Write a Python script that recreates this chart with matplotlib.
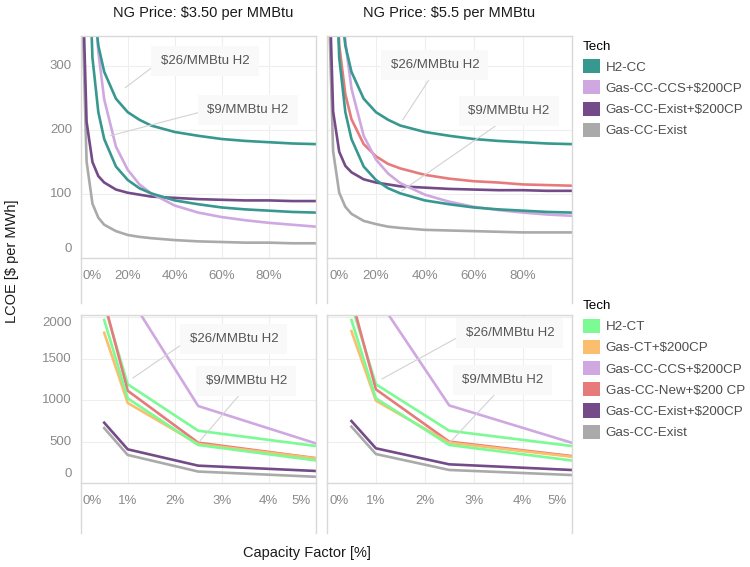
import numpy as np
import matplotlib.pyplot as plt
from matplotlib.patches import Patch

plt.rcParams['font.family'] = ['Liberation Sans', 'DejaVu Sans']
plt.rcParams['text.parse_math'] = False

# capacity factors used in the two rows
cf_full = [0.01, 0.025, 0.05, 0.075, 0.10, 0.15, 0.20, 0.25, 0.30, 0.40, 0.50, 0.60, 0.70, 0.80, 0.90, 1.00]
cf_peak = [0.005, 0.01, 0.025, 0.05]

# ---- top row, LCOE $/MWh over full CF range ----
# H2 priced at $26 and $9 per MMBtu (same in both NG panels)
h2cc_26 = [1416, 666, 416, 332, 291, 249, 228, 216, 207, 197, 191, 186, 183, 181, 179, 178]
h2cc_9 = [1333, 568, 313, 228, 186, 143, 122, 109, 101, 90, 84, 79, 76, 74, 72, 71]
# NG $3.50
ccs_cp_350 = [2237, 911, 469, 322, 248, 174, 138, 115, 101, 82, 71, 64, 59, 55, 52, 49]
exist_cp_350 = [405, 213, 150, 128, 118, 107, 102, 99, 96, 94, 92, 91, 90, 90, 89, 89]
exist_350 = [347, 151, 85, 63, 52, 42, 36, 33, 31, 28, 26, 25, 24, 24, 23, 23]
# NG $5.5
ccs_cp_550 = [2254, 928, 486, 338, 265, 191, 154, 132, 117, 99, 88, 80, 75, 71, 68, 66]
new_cp_550 = [1261, 565, 333, 256, 217, 178, 159, 147, 140, 130, 124, 120, 118, 115, 114, 113]
exist_cp_550 = [421, 229, 166, 144, 134, 123, 118, 115, 112, 110, 108, 107, 106, 106, 105, 105]
exist_550 = [363, 167, 102, 80, 69, 58, 53, 49, 47, 44, 43, 42, 41, 40, 40, 40]

# ---- bottom row, peaking CF range ----
h2ct_26 = [2150, 1190, 630, 446]
h2ct_9 = [1965, 1020, 458, 272]
gasct_cp_350 = [1811, 965, 470, 297]
ccs_pk_350 = [4530, 2280, 928, 478]
new_pk_350 = [2190, 1112, 486, 300]
exist_cp_pk_350 = [727, 406, 209, 145]
exist_pk_350 = [662, 338, 138, 75]

gasct_cp_550 = [1831, 992, 486, 317]
ccs_pk_550 = [4465, 2255, 935, 486]
new_pk_550 = [2230, 1129, 498, 325]
exist_cp_pk_550 = [747, 418, 225, 157]
exist_pk_550 = [679, 349, 157, 96]

colors = {
    'H2-CC': '#37988f',
    'H2-CT': '#7cfa94',
    'Gas-CT+$200CP': '#fbbe6e',
    'Gas-CC-CCS+$200CP': '#cfa8e1',
    'Gas-CC-New+$200 CP': '#e77b7b',
    'Gas-CC-Exist+$200CP': '#744b88',
    'Gas-CC-Exist': '#aaaaaa',
}

W, H = 750, 567
fig = plt.figure(figsize=(W / 100, H / 100), dpi=100)

def rect(x0, y0, x1, y1):
    # pixel box -> figure fraction
    return [x0 / W, 1 - y1 / H, (x1 - x0) / W, (y1 - y0) / H]

grid_c = '#eeeeee'
edge_c = '#d9d9d9'
tick_c = '#8a8a8a'
txt_c = '#555555'

def make_panel(box, strip_bottom):
    x0, y0, x1, y1 = box
    ax = fig.add_axes(rect(x0, y0, x1, y1))
    st = fig.add_axes(rect(x0, y1, x1, strip_bottom))
    for a in (ax, st):
        for s in a.spines.values():
            s.set_color(edge_c)
            s.set_linewidth(1)
    st.spines['top'].set_visible(False)
    st.spines['bottom'].set_visible(False)
    st.set_xticks([])
    st.set_yticks([])
    st.patch.set_alpha(0)
    ax.tick_params(length=0, labelbottom=False, labelleft=False)
    ax.grid(color=grid_c, lw=0.8)
    ax.set_axisbelow(True)
    return ax

def xlabels(ax, ticks, labels):
    for i, (t, l) in enumerate(zip(ticks, labels)):
        dx, ha = 0, 'center'
        if i == 0:
            dx, ha = 1.5, 'left'
        elif t >= ax.get_xlim()[1] - 1e-9:
            dx, ha = -3.5, 'right'
        ax.annotate(l, xy=(t, 0), xycoords=ax.get_xaxis_transform(),
                    xytext=(dx, -13), textcoords='offset points',
                    ha=ha, va='center', fontsize=9.5, color=tick_c,
                    annotation_clip=False)

def ylabels(ax, ticks, labels):
    lo, hi = ax.get_ylim()
    for t, l in zip(ticks, labels):
        dy = 0
        if t == lo:
            dy = 6.5
        elif hi - t < (hi - lo) * 0.04:
            dy = -4
        ax.annotate(l, xy=(0, t), xycoords=ax.get_yaxis_transform(),
                    xytext=(-6.3, dy), textcoords='offset points',
                    ha='right', va='center', fontsize=9.5, color=tick_c,
                    annotation_clip=False)

def note(ax, s, xy, xytext, relpos):
    ax.annotate(s, xy=xy, xytext=xytext, ha='center', va='center',
                fontsize=9.5, color=txt_c,
                bbox=dict(boxstyle='square,pad=0.7', fc='#f9f9f9', ec='none'),
                arrowprops=dict(arrowstyle='-', color='#d2d2d2', lw=0.8,
                                relpos=relpos, shrinkA=0, shrinkB=0))

lw = 1.9
top_ticks = [0, 0.2, 0.4, 0.6, 0.8]
top_lbls = ['0%', '20%', '40%', '60%', '80%']
bot_ticks = [0, 0.01, 0.02, 0.03, 0.04, 0.05]
bot_lbls = ['0%', '1%', '2%', '3%', '4%', '5%']

# ---------- top left ----------
ax = make_panel((80.7, 36, 315.7, 258), 303)
ax.plot(cf_full, exist_350, color=colors['Gas-CC-Exist'], lw=lw)
ax.plot(cf_full, exist_cp_350, color=colors['Gas-CC-Exist+$200CP'], lw=lw)
ax.plot(cf_full, ccs_cp_350, color=colors['Gas-CC-CCS+$200CP'], lw=lw)
ax.plot(cf_full, h2cc_9, color=colors['H2-CC'], lw=lw)
ax.plot(cf_full, h2cc_26, color=colors['H2-CC'], lw=lw)
ax.set_xlim(0, 1)
ax.set_ylim(0, 347)
ax.set_xticks(top_ticks)
ax.set_yticks([0, 100, 200, 300])
xlabels(ax, top_ticks, top_lbls)
ylabels(ax, [0, 100, 200, 300], ['0', '100', '200', '300'])
note(ax, '$26/MMBtu H2', (0.189, 266), (0.529, 308), (0, 0.5))
note(ax, '$9/MMBtu H2', (0.125, 191), (0.712, 231), (0, 0.5))

# ---------- top right ----------
ax = make_panel((327, 36, 571.5, 258), 303)
ax.plot(cf_full, exist_550, color=colors['Gas-CC-Exist'], lw=lw)
ax.plot(cf_full, new_cp_550, color=colors['Gas-CC-New+$200 CP'], lw=lw)
ax.plot(cf_full, exist_cp_550, color=colors['Gas-CC-Exist+$200CP'], lw=lw)
ax.plot(cf_full, ccs_cp_550, color=colors['Gas-CC-CCS+$200CP'], lw=lw)
ax.plot(cf_full, h2cc_9, color=colors['H2-CC'], lw=lw)
ax.plot(cf_full, h2cc_26, color=colors['H2-CC'], lw=lw)
ax.set_xlim(0, 1)
ax.set_ylim(0, 347)
ax.set_xticks(top_ticks)
ax.set_yticks([0, 100, 200, 300])
xlabels(ax, top_ticks, top_lbls)
note(ax, '$26/MMBtu H2', (0.310, 216), (0.441, 302), (0.5, 0))
note(ax, '$9/MMBtu H2', (0.306, 105), (0.743, 230), (0.5, 0))

# ---------- bottom left ----------
ax = make_panel((80.7, 315, 315.7, 483), 533)
ax.plot(cf_peak, ccs_pk_350, color=colors['Gas-CC-CCS+$200CP'], lw=lw)
ax.plot(cf_peak, h2ct_26, color=colors['H2-CT'], lw=lw)
ax.plot(cf_peak, new_pk_350, color=colors['Gas-CC-New+$200 CP'], lw=lw)
ax.plot(cf_peak, gasct_cp_350, color=colors['Gas-CT+$200CP'], lw=lw)
ax.plot(cf_peak, h2ct_9, color=colors['H2-CT'], lw=lw)
ax.plot(cf_peak, exist_pk_350, color=colors['Gas-CC-Exist'], lw=lw)
ax.plot(cf_peak, exist_cp_pk_350, color=colors['Gas-CC-Exist+$200CP'], lw=lw)
ax.set_xlim(0, 0.05)
ax.set_ylim(0, 2025)
ax.set_xticks(bot_ticks)
ax.set_yticks([0, 500, 1000, 1500, 2000])
xlabels(ax, bot_ticks, bot_lbls)
ylabels(ax, [0, 500, 1000, 1500, 2000], ['0', '500', '1000', '1500', '2000'])
note(ax, '$26/MMBtu H2', (0.0111, 1265), (0.0326, 1735), (0, 0.5))
note(ax, '$9/MMBtu H2', (0.0252, 497), (0.0352, 1229), (0.5, 0))

# ---------- bottom right ----------
ax = make_panel((327, 315, 571.5, 483), 533)
ax.plot(cf_peak, ccs_pk_550, color=colors['Gas-CC-CCS+$200CP'], lw=lw)
ax.plot(cf_peak, h2ct_26, color=colors['H2-CT'], lw=lw)
ax.plot(cf_peak, new_pk_550, color=colors['Gas-CC-New+$200 CP'], lw=lw)
ax.plot(cf_peak, gasct_cp_550, color=colors['Gas-CT+$200CP'], lw=lw)
ax.plot(cf_peak, h2ct_9, color=colors['H2-CT'], lw=lw)
ax.plot(cf_peak, exist_pk_550, color=colors['Gas-CC-Exist'], lw=lw)
ax.plot(cf_peak, exist_cp_pk_550, color=colors['Gas-CC-Exist+$200CP'], lw=lw)
ax.set_xlim(0, 0.05)
ax.set_ylim(0, 2025)
ax.set_xticks(bot_ticks)
ax.set_yticks([0, 500, 1000, 1500, 2000])
xlabels(ax, bot_ticks, bot_lbls)
note(ax, '$26/MMBtu H2', (0.0112, 1253), (0.0374, 1807), (0, 0.5))
note(ax, '$9/MMBtu H2', (0.0251, 486), (0.0359, 1241), (0.5, 0))

# titles and axis labels
fig.text(203 / W, 1 - 13 / H, 'NG Price: $3.50 per MMBtu', ha='center', va='center',
         fontsize=10.5, color='#1a1a1a')
fig.text(449.5 / W, 1 - 13 / H, 'NG Price: $5.5 per MMBtu', ha='center', va='center',
         fontsize=10.5, color='#1a1a1a')
fig.text(12 / W, 1 - 261 / H, 'LCOE [$ per MWh]', rotation=90, ha='center', va='center',
         fontsize=10.5, color='#1a1a1a')
fig.text(306.5 / W, 1 - 553 / H, 'Capacity Factor [%]', ha='center', va='center',
         fontsize=10.5, color='#1a1a1a')

# legends
def legend(names, top_px):
    handles = [Patch(facecolor=colors[n], edgecolor='none', label=n) for n in names]
    fig.legend(handles=handles, loc='upper left', bbox_to_anchor=(583 / W, 1 - top_px / H),
               title='Tech', title_fontsize=9.6, fontsize=9.6, frameon=False,
               handlelength=1.25, handleheight=1.25, handletextpad=0.45,
               labelspacing=0.5, borderpad=0, borderaxespad=0, alignment='left',
               labelcolor='#4d4d4d')

legend(['H2-CC', 'Gas-CC-CCS+$200CP', 'Gas-CC-Exist+$200CP', 'Gas-CC-Exist'], 40.5)
legend(['H2-CT', 'Gas-CT+$200CP', 'Gas-CC-CCS+$200CP', 'Gas-CC-New+$200 CP',
        'Gas-CC-Exist+$200CP', 'Gas-CC-Exist'], 300)

fig.savefig('out.png', dpi=100)
